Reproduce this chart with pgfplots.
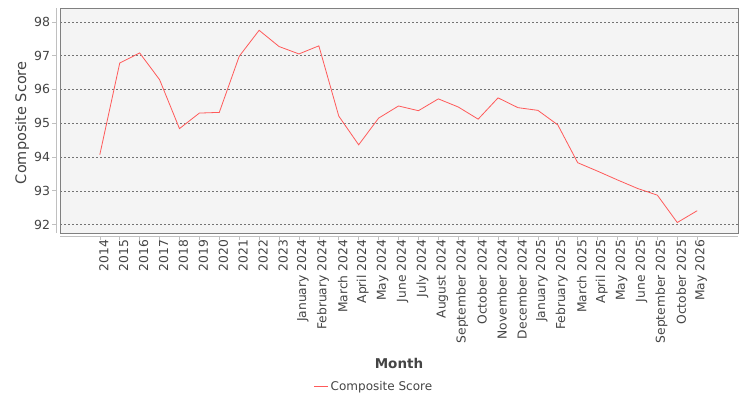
\documentclass[border=0pt]{standalone}
\usepackage{fontspec}
\setmainfont{DejaVu Sans}
\usepackage{pgfplots}
\pgfplotsset{compat=1.18}
\definecolor{plotbg}{HTML}{F4F4F4}
\definecolor{boxgray}{HTML}{808080}
\definecolor{axgray}{HTML}{C0C0C0}
\definecolor{txt}{HTML}{444444}
\definecolor{series}{HTML}{FF5A5A}
\begin{document}
\begin{tikzpicture}
\path[use as bounding box] (0,0) rectangle (750pt,400pt);
\begin{axis}[
    at={(60pt,167pt)}, anchor=south west,
    scale only axis,
    width=678pt, height=225pt,
    xmin=-2, xmax=32.05,
    ymin=91.75, ymax=98.41,
    axis background/.style={fill=plotbg},
    axis line style={boxgray, line width=0.8pt},
    xtick=data,
    xticklabels={2014,2015,2016,2017,2018,2019,2020,2021,2022,2023,
      January 2024,February 2024,March 2024,April 2024,May 2024,June 2024,
      July 2024,August 2024,September 2024,October 2024,November 2024,
      December 2024,January 2025,February 2025,March 2025,April 2025,
      May 2025,June 2025,September 2025,October 2025,May 2026},
    xticklabel style={rotate=90, anchor=east, font=\fontsize{12.3}{13}\selectfont, text=txt, yshift=-4pt},
    ytick={92,93,94,95,96,97,98},
    yticklabel style={font=\fontsize{12.5}{13}\selectfont, text=txt, xshift=-3pt},
    /pgf/number format/assume math mode=true,
    tick align=outside, major tick length=3.5pt,
    tick style={axgray, line width=0.6pt},
    xtick style={yshift=-3.5pt},
    ytick style={xshift=-4pt},
    xtick pos=bottom, ytick pos=left,
    ymajorgrids=true,
    major grid style={black!55, dash pattern=on 2pt off 2pt, line width=0.5pt},
    xlabel={\bfseries Month},
    xlabel style={at={(axis description cs:0.5,-0.578)}, anchor=center, font=\fontsize{13.5}{14}\selectfont, text=txt},
    ylabel={Composite Score},
    ylabel style={at={(axis description cs:-0.056,0.49)}, anchor=center, font=\fontsize{14.5}{15}\selectfont, text=txt},
    legend style={at={(axis description cs:0.463,-0.684)}, anchor=center, draw=none, fill=none,
      font=\fontsize{12}{13}\selectfont, text=txt},
    legend image code/.code={\draw[series, line width=1.1pt] (0pt,0pt) -- (14pt,0pt);},
    legend cell align=left,
    clip=false,
    after end axis/.code={
      \draw[axgray, line width=0.8pt] ([yshift=-3.5pt]rel axis cs:0,0) -- ([yshift=-3.5pt]rel axis cs:1,0);
      \draw[axgray, line width=0.8pt] ([xshift=-4pt]rel axis cs:0,0) -- ([xshift=-4pt]rel axis cs:0,1);
    },
]
\addplot[color=series, line width=0.8pt] coordinates {
 (0,94.07) (1,96.78) (2,97.08) (3,96.29) (4,94.84) (5,95.30) (6,95.32)
 (7,96.98) (8,97.75) (9,97.27) (10,97.05) (11,97.29) (12,95.21) (13,94.36)
 (14,95.15) (15,95.51) (16,95.37) (17,95.72) (18,95.48) (19,95.12) (20,95.75)
 (21,95.46) (22,95.38) (23,94.95) (24,93.83) (25,93.58) (26,93.32) (27,93.07)
 (28,92.87) (29,92.06) (30,92.41)
};
\legend{Composite Score}
\end{axis}
\end{tikzpicture}
\end{document}
